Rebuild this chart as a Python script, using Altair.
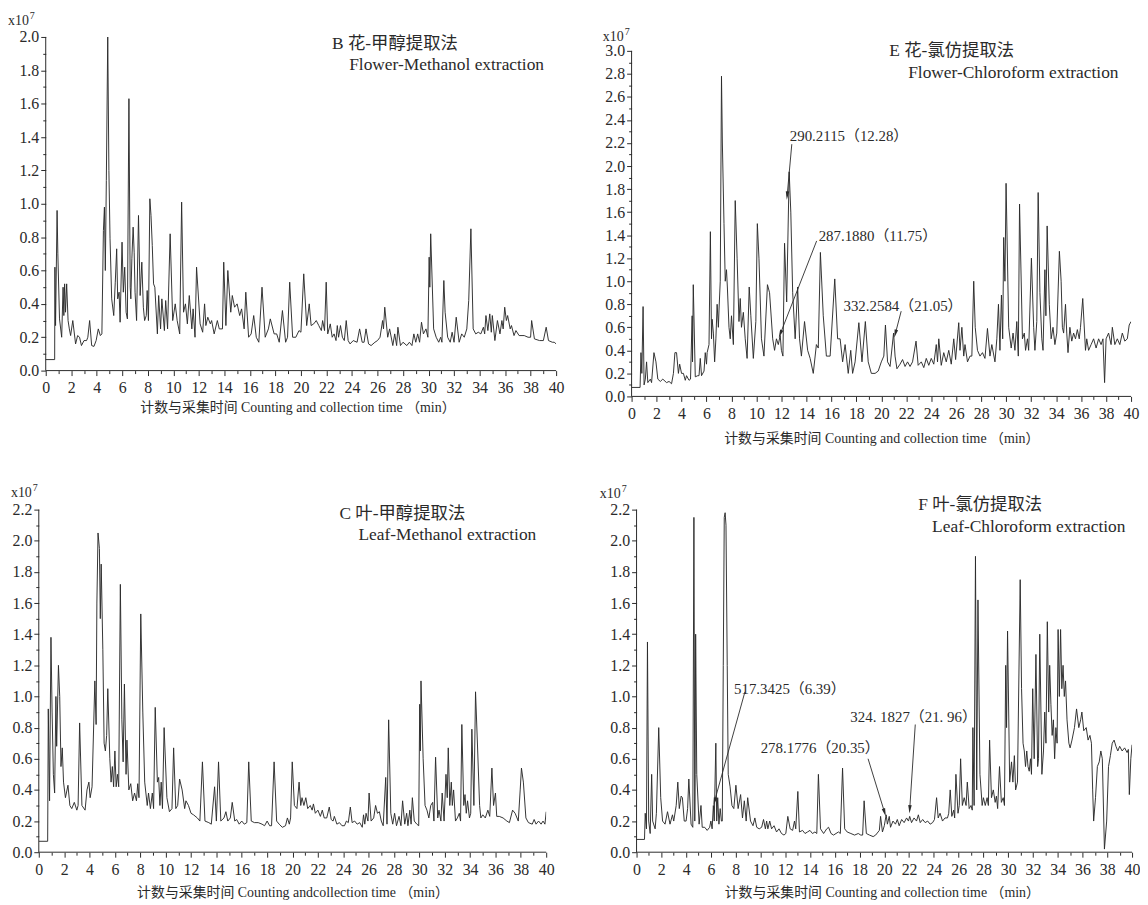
import math
import altair as alt
import pandas as pd

FONT = "Liberation Serif, Noto Sans CJK SC, serif"
INK = "#2a2a2a"

# ---------------- chromatogram traces: (time min, intensity x10^7) ----------------
B_trace = [(0,0.066),(0.7,0.066),(0.72,0.62),(0.77,0.27),(0.89,0.96),(0.95,0.7),(1.08,0.31),(1.25,0.2),(1.36,0.5),(1.42,0.33),(1.48,0.52),(1.55,0.35),(1.64,0.52),(1.75,0.3),(1.85,0.25),(1.95,0.21),(2.12,0.3),(2.34,0.16),(2.5,0.21),(2.65,0.2),(2.8,0.15),(3.0,0.18),(3.2,0.18),(3.3,0.2),(3.44,0.3),(3.6,0.15),(3.78,0.145),(3.95,0.18),(4.12,0.25),(4.28,0.21),(4.4,0.22),(4.52,0.84),(4.6,0.98),(4.67,0.6),(4.75,1.14),(4.86,2.0),(4.95,1.2),(5.04,0.79),(5.17,0.43),(5.33,0.33),(5.45,0.53),(5.56,0.73),(5.64,0.43),(5.75,0.47),(5.83,0.29),(5.98,0.77),(6.08,0.47),(6.19,0.62),(6.3,0.35),(6.4,0.31),(6.52,1.63),(6.62,0.5),(6.67,0.43),(6.75,0.67),(6.85,0.86),(6.93,0.71),(7.0,0.47),(7.12,0.3),(7.27,0.93),(7.4,0.45),(7.53,0.65),(7.65,0.38),(7.75,0.3),(7.88,0.33),(7.95,0.48),(8.05,0.3),(8.16,1.03),(8.25,0.93),(8.35,0.75),(8.45,0.52),(8.55,0.5),(8.75,0.22),(8.85,0.45),(9.0,0.25),(9.1,0.43),(9.3,0.24),(9.4,0.42),(9.55,0.25),(9.75,0.82),(9.95,0.3),(10.15,0.4),(10.3,0.3),(10.5,0.22),(10.65,1.01),(10.8,0.35),(10.95,0.4),(11.1,0.28),(11.25,0.45),(11.45,0.25),(11.55,0.37),(11.7,0.2),(11.82,0.62),(12.1,0.28),(12.3,0.23),(12.45,0.4),(12.55,0.27),(12.7,0.32),(12.9,0.28),(13.0,0.3),(13.2,0.22),(13.45,0.3),(13.6,0.25),(13.85,0.25),(13.95,0.65),(14.12,0.27),(14.27,0.6),(14.5,0.35),(14.62,0.45),(14.8,0.38),(15.0,0.4),(15.2,0.33),(15.35,0.37),(15.55,0.25),(15.68,0.47),(15.9,0.2),(16.1,0.22),(16.3,0.33),(16.5,0.2),(16.7,0.17),(16.95,0.5),(17.2,0.2),(17.45,0.25),(17.6,0.31),(17.9,0.22),(18.1,0.22),(18.3,0.17),(18.55,0.36),(18.8,0.17),(18.95,0.2),(19.12,0.53),(19.35,0.2),(19.6,0.2),(19.85,0.24),(20.0,0.23),(20.22,0.58),(20.45,0.27),(20.65,0.4),(20.8,0.27),(21.0,0.28),(21.2,0.3),(21.4,0.27),(21.6,0.24),(21.7,0.3),(21.85,0.24),(21.98,0.53),(22.1,0.22),(22.3,0.28),(22.45,0.2),(22.6,0.22),(22.75,0.18),(22.85,0.27),(22.95,0.2),(23.1,0.27),(23.25,0.2),(23.4,0.18),(23.55,0.3),(23.7,0.18),(23.85,0.16),(24.1,0.18),(24.4,0.17),(24.6,0.25),(24.8,0.17),(24.95,0.17),(25.1,0.25),(25.3,0.16),(25.5,0.15),(25.8,0.17),(26.0,0.18),(26.2,0.2),(26.4,0.3),(26.47,0.25),(26.57,0.38),(26.8,0.2),(26.95,0.25),(27.2,0.15),(27.35,0.22),(27.5,0.15),(27.6,0.26),(27.8,0.15),(28.0,0.17),(28.3,0.15),(28.5,0.17),(28.7,0.15),(28.85,0.22),(29.0,0.17),(29.15,0.22),(29.3,0.17),(29.45,0.29),(29.6,0.22),(29.8,0.25),(29.95,0.2),(30.05,0.68),(30.1,0.5),(30.17,0.82),(30.4,0.25),(30.6,0.2),(30.8,0.17),(30.95,0.2),(31.05,0.17),(31.2,0.54),(31.3,0.35),(31.5,0.2),(31.7,0.17),(31.85,0.23),(32.0,0.17),(32.17,0.32),(32.4,0.17),(32.6,0.22),(32.8,0.2),(33.0,0.25),(33.15,0.42),(33.32,0.85),(33.5,0.25),(33.7,0.22),(33.9,0.23),(34.1,0.22),(34.3,0.26),(34.4,0.22),(34.5,0.33),(34.65,0.24),(34.8,0.34),(34.92,0.23),(35.0,0.33),(35.2,0.18),(35.4,0.3),(35.6,0.22),(35.75,0.3),(35.85,0.25),(35.97,0.38),(36.1,0.3),(36.2,0.33),(36.4,0.25),(36.5,0.27),(36.7,0.21),(36.85,0.24),(37.1,0.21),(37.5,0.21),(37.8,0.2),(38.0,0.2),(38.08,0.3),(38.3,0.19),(38.7,0.18),(39.0,0.18),(39.22,0.26),(39.4,0.18),(39.7,0.17),(39.85,0.17),(40.0,0.16)]

E_trace = [(0,0.078),(0.68,0.078),(0.75,0.38),(0.82,0.2),(0.92,0.78),(1.0,0.1),(1.1,0.15),(1.2,0.3),(1.3,0.12),(1.5,0.15),(1.6,0.12),(1.79,0.38),(1.95,0.3),(2.1,0.15),(2.3,0.13),(2.5,0.15),(2.8,0.12),(3.0,0.13),(3.2,0.11),(3.35,0.2),(3.47,0.38),(3.6,0.38),(3.75,0.2),(3.85,0.28),(4.0,0.2),(4.15,0.2),(4.3,0.14),(4.4,0.18),(4.6,0.14),(4.72,0.15),(4.85,0.7),(4.88,0.3),(4.94,0.97),(5.1,0.17),(5.3,0.18),(5.4,0.18),(5.5,0.33),(5.6,0.18),(5.8,0.22),(5.9,0.38),(6.0,0.28),(6.05,0.38),(6.2,0.45),(6.31,1.43),(6.4,0.5),(6.45,0.67),(6.55,0.55),(6.65,0.3),(6.75,0.5),(6.85,0.8),(6.95,0.6),(7.0,0.75),(7.1,1.0),(7.2,2.78),(7.27,2.2),(7.4,1.5),(7.5,1.0),(7.6,1.1),(7.67,0.95),(7.8,0.6),(7.9,0.5),(8.0,0.7),(8.15,0.45),(8.3,1.7),(8.45,1.2),(8.6,0.65),(8.7,0.85),(8.8,0.6),(8.95,0.73),(9.1,0.5),(9.25,0.33),(9.42,0.95),(9.55,0.7),(9.75,0.33),(9.95,0.65),(10.07,1.5),(10.2,1.2),(10.4,0.5),(10.6,0.35),(10.88,0.97),(11.05,0.9),(11.3,0.5),(11.45,0.4),(11.6,0.5),(11.75,0.45),(11.9,0.53),(12.0,0.4),(12.12,0.35),(12.25,1.33),(12.42,0.82),(12.62,1.95),(12.75,1.6),(12.9,0.9),(13.1,0.5),(13.3,0.95),(13.45,0.5),(13.6,0.35),(13.85,0.65),(14.1,0.4),(14.3,0.33),(14.55,0.2),(14.8,0.45),(14.95,0.42),(15.12,1.25),(15.35,0.7),(15.6,0.35),(15.9,0.35),(16.27,1.02),(16.5,0.5),(16.7,0.5),(16.9,0.3),(17.1,0.45),(17.35,0.2),(17.55,0.4),(17.7,0.2),(17.9,0.3),(18.2,0.64),(18.45,0.3),(18.72,0.65),(18.95,0.3),(19.2,0.2),(19.5,0.2),(19.75,0.22),(20.0,0.3),(20.2,0.35),(20.33,0.62),(20.5,0.3),(20.7,0.26),(20.98,0.55),(21.1,0.35),(21.25,0.24),(21.5,0.28),(21.7,0.32),(21.9,0.26),(22.1,0.3),(22.3,0.26),(22.5,0.3),(22.78,0.48),(22.95,0.27),(23.2,0.3),(23.4,0.25),(23.6,0.33),(23.8,0.27),(24.0,0.33),(24.2,0.28),(24.4,0.45),(24.5,0.3),(24.6,0.5),(24.8,0.27),(25.0,0.38),(25.2,0.3),(25.4,0.4),(25.6,0.28),(25.8,0.5),(25.95,0.32),(26.2,0.64),(26.3,0.4),(26.45,0.6),(26.6,0.35),(26.7,0.45),(26.9,0.3),(27.1,0.35),(27.25,0.35),(27.4,1.0),(27.52,0.6),(27.7,0.4),(27.9,0.35),(28.1,0.38),(28.3,0.33),(28.5,0.59),(28.7,0.35),(28.85,0.45),(29.1,0.3),(29.25,0.5),(29.38,0.8),(29.5,0.4),(29.62,0.88),(29.72,0.5),(29.8,1.38),(29.9,1.0),(29.99,1.85),(30.2,0.6),(30.4,0.42),(30.55,0.55),(30.7,0.4),(30.85,0.65),(30.97,0.35),(31.07,1.67),(31.3,0.5),(31.45,0.55),(31.55,0.4),(31.7,0.5),(31.8,0.4),(32.02,1.2),(32.2,0.6),(32.3,0.4),(32.45,0.65),(32.56,1.77),(32.7,0.9),(32.85,0.5),(32.95,0.4),(33.1,1.1),(33.18,0.7),(33.28,1.48),(33.45,0.8),(33.6,0.5),(33.75,0.6),(33.9,0.45),(34.05,0.55),(34.26,1.26),(34.4,1.0),(34.5,0.6),(34.6,0.55),(34.75,0.8),(34.85,0.55),(34.95,0.38),(35.1,0.6),(35.25,0.48),(35.4,0.55),(35.55,0.5),(35.7,0.58),(35.85,0.5),(35.95,0.6),(36.13,0.85),(36.35,0.4),(36.45,0.5),(36.6,0.4),(36.8,0.45),(37.0,0.5),(37.2,0.42),(37.4,0.5),(37.6,0.45),(37.75,0.5),(37.88,0.12),(38.0,0.5),(38.2,0.55),(38.4,0.45),(38.5,0.6),(38.7,0.45),(38.9,0.5),(39.1,0.45),(39.3,0.55),(39.5,0.48),(39.7,0.5),(39.85,0.62),(40.0,0.65)]

C_trace = [(0,0.07),(0.7,0.07),(0.75,0.92),(0.85,0.33),(0.96,1.38),(1.05,0.9),(1.15,0.5),(1.25,0.38),(1.35,1.0),(1.41,0.68),(1.55,1.2),(1.65,1.0),(1.75,0.55),(1.85,0.67),(1.95,0.45),(2.1,0.35),(2.3,0.43),(2.45,0.3),(2.6,0.28),(2.8,0.32),(3.0,0.27),(3.1,0.3),(3.22,0.83),(3.4,0.3),(3.65,0.27),(3.8,0.4),(3.95,0.45),(4.05,0.35),(4.2,0.42),(4.42,1.1),(4.52,0.82),(4.58,1.6),(4.67,2.05),(4.78,1.95),(4.85,1.5),(4.92,1.85),(5.05,1.3),(5.15,0.7),(5.25,0.65),(5.35,0.75),(5.44,1.05),(5.6,0.6),(5.7,0.45),(5.8,0.55),(5.9,0.42),(6.0,0.65),(6.1,0.42),(6.2,0.5),(6.3,0.42),(6.43,1.72),(6.55,0.85),(6.65,0.58),(6.75,1.08),(6.88,0.5),(6.95,0.72),(7.1,0.4),(7.25,0.44),(7.4,0.33),(7.55,0.38),(7.7,0.33),(7.8,0.44),(7.9,0.35),(8.04,1.53),(8.2,0.9),(8.35,0.45),(8.55,0.3),(8.65,0.38),(8.8,0.28),(8.95,0.38),(9.05,0.28),(9.18,0.93),(9.35,0.45),(9.45,0.48),(9.55,0.3),(9.65,0.45),(9.75,0.28),(9.88,0.8),(10.1,0.35),(10.3,0.26),(10.5,0.28),(10.63,0.67),(10.8,0.28),(10.95,0.3),(11.1,0.47),(11.3,0.4),(11.5,0.28),(11.6,0.33),(11.8,0.3),(12.0,0.25),(12.2,0.24),(12.5,0.22),(12.7,0.2),(12.9,0.58),(13.1,0.2),(13.4,0.19),(13.6,0.18),(13.86,0.42),(14.0,0.2),(14.17,0.58),(14.35,0.2),(14.6,0.22),(14.75,0.26),(14.9,0.2),(15.1,0.22),(15.25,0.32),(15.45,0.2),(15.6,0.21),(15.8,0.18),(16.0,0.2),(16.2,0.18),(16.4,0.19),(16.55,0.58),(16.75,0.2),(17.0,0.19),(17.3,0.19),(17.6,0.18),(17.8,0.17),(18.0,0.2),(18.2,0.17),(18.35,0.17),(18.55,0.58),(18.75,0.2),(18.95,0.18),(19.2,0.16),(19.45,0.17),(19.6,0.22),(19.75,0.18),(19.85,0.22),(19.98,0.58),(20.15,0.3),(20.35,0.28),(20.52,0.45),(20.65,0.3),(20.75,0.35),(20.9,0.3),(21.05,0.35),(21.2,0.28),(21.4,0.3),(21.55,0.27),(21.65,0.31),(21.8,0.25),(22.0,0.27),(22.2,0.23),(22.35,0.27),(22.5,0.22),(22.7,0.22),(22.9,0.29),(23.05,0.21),(23.2,0.2),(23.3,0.23),(23.5,0.18),(23.7,0.19),(23.9,0.17),(24.1,0.17),(24.25,0.2),(24.4,0.19),(24.56,0.29),(24.7,0.19),(24.9,0.2),(25.1,0.18),(25.3,0.19),(25.5,0.16),(25.6,0.24),(25.7,0.18),(25.8,0.25),(25.95,0.2),(26.04,0.38),(26.2,0.2),(26.4,0.22),(26.55,0.3),(26.7,0.25),(26.85,0.26),(27.0,0.2),(27.15,0.17),(27.35,0.48),(27.45,0.18),(27.58,0.85),(27.75,0.25),(27.9,0.18),(28.05,0.25),(28.2,0.17),(28.4,0.23),(28.55,0.17),(28.68,0.33),(28.85,0.18),(29.0,0.25),(29.1,0.17),(29.25,0.27),(29.35,0.18),(29.45,0.35),(29.6,0.2),(29.8,0.18),(29.95,0.17),(30.03,0.95),(30.08,0.65),(30.13,1.1),(30.3,0.6),(30.45,0.3),(30.6,0.27),(30.75,0.22),(30.9,0.3),(31.05,0.32),(31.15,0.2),(31.28,0.61),(31.45,0.22),(31.55,0.27),(31.7,0.2),(31.8,0.38),(31.95,0.2),(32.1,0.5),(32.2,0.35),(32.28,0.67),(32.4,0.3),(32.52,0.45),(32.6,0.3),(32.7,0.4),(32.85,0.2),(33.0,0.22),(33.15,0.25),(33.25,0.2),(33.35,0.82),(33.5,0.3),(33.6,0.37),(33.7,0.25),(33.8,0.33),(33.95,0.22),(34.05,0.25),(34.14,0.79),(34.3,0.3),(34.43,1.03),(34.6,0.65),(34.75,0.3),(34.85,0.22),(35.0,0.24),(35.2,0.22),(35.4,0.27),(35.55,0.23),(35.72,0.54),(35.85,0.3),(36.0,0.38),(36.1,0.23),(36.3,0.23),(36.6,0.22),(36.9,0.2),(37.1,0.19),(37.35,0.27),(37.55,0.25),(37.8,0.2),(37.95,0.4),(38.05,0.54),(38.2,0.45),(38.4,0.22),(38.6,0.19),(38.9,0.18),(39.05,0.21),(39.2,0.18),(39.4,0.2),(39.6,0.18),(39.75,0.2),(39.9,0.18),(40.0,0.26)]

F_trace = [(0,0.082),(0.64,0.082),(0.7,0.25),(0.8,0.15),(0.88,1.35),(0.98,0.2),(1.1,0.12),(1.22,0.5),(1.3,0.2),(1.5,0.15),(1.6,0.25),(1.79,0.8),(1.95,0.35),(2.1,0.2),(2.3,0.18),(2.5,0.26),(2.7,0.18),(2.9,0.24),(3.0,0.2),(3.2,0.3),(3.33,0.45),(3.45,0.28),(3.6,0.36),(3.7,0.35),(3.85,0.2),(4.0,0.2),(4.12,0.28),(4.22,0.47),(4.4,0.18),(4.54,0.16),(4.63,2.15),(4.7,0.2),(4.73,0.5),(4.77,1.4),(4.86,0.5),(5.05,0.18),(5.2,0.3),(5.3,0.16),(5.5,0.16),(5.7,0.14),(5.9,0.16),(6.0,0.2),(6.1,0.15),(6.2,0.3),(6.27,0.2),(6.4,0.7),(6.47,0.2),(6.55,0.35),(6.65,0.18),(6.75,0.28),(6.85,0.2),(6.92,0.2),(7.0,1.2),(7.08,2.15),(7.15,2.18),(7.22,2.1),(7.32,1.2),(7.4,0.5),(7.55,0.42),(7.7,0.3),(7.85,0.28),(8.02,0.43),(8.2,0.28),(8.4,0.37),(8.55,0.22),(8.7,0.33),(8.85,0.2),(8.97,0.35),(9.2,0.2),(9.4,0.17),(9.55,0.22),(9.7,0.16),(9.9,0.15),(10.1,0.16),(10.25,0.21),(10.4,0.15),(10.5,0.2),(10.6,0.15),(10.75,0.2),(10.9,0.15),(11.1,0.17),(11.3,0.13),(11.5,0.15),(11.7,0.12),(11.9,0.11),(12.05,0.12),(12.21,0.23),(12.4,0.15),(12.6,0.14),(12.75,0.2),(12.85,0.15),(13.02,0.39),(13.15,0.13),(13.4,0.14),(13.6,0.12),(13.8,0.13),(14.0,0.14),(14.2,0.12),(14.4,0.13),(14.55,0.12),(14.68,0.5),(14.85,0.15),(15.1,0.12),(15.35,0.15),(15.5,0.16),(15.7,0.12),(15.9,0.11),(16.1,0.12),(16.3,0.13),(16.45,0.12),(16.63,0.54),(16.8,0.15),(17.0,0.13),(17.3,0.12),(17.6,0.11),(17.9,0.12),(18.1,0.11),(18.25,0.11),(18.37,0.33),(18.55,0.12),(18.8,0.11),(19.1,0.1),(19.3,0.11),(19.5,0.13),(19.6,0.14),(19.7,0.23),(19.85,0.13),(20.0,0.17),(20.15,0.24),(20.25,0.18),(20.4,0.23),(20.5,0.16),(20.7,0.2),(20.9,0.18),(21.05,0.21),(21.2,0.17),(21.4,0.21),(21.6,0.19),(21.8,0.22),(21.95,0.2),(22.05,0.23),(22.2,0.19),(22.4,0.22),(22.6,0.2),(22.75,0.24),(22.9,0.19),(23.1,0.21),(23.3,0.19),(23.5,0.2),(23.7,0.18),(23.9,0.19),(24.05,0.21),(24.22,0.35),(24.35,0.22),(24.5,0.25),(24.7,0.2),(24.9,0.22),(25.1,0.22),(25.2,0.25),(25.32,0.4),(25.45,0.23),(25.6,0.27),(25.68,0.22),(25.78,0.5),(25.95,0.25),(26.05,0.3),(26.16,0.6),(26.3,0.3),(26.45,0.35),(26.6,0.3),(26.7,0.45),(26.85,0.28),(27.0,0.3),(27.1,0.27),(27.15,0.8),(27.25,0.3),(27.36,1.9),(27.46,0.4),(27.56,1.62),(27.72,0.5),(27.9,0.3),(28.0,0.35),(28.15,0.3),(28.3,0.35),(28.4,0.3),(28.5,0.72),(28.65,0.35),(28.8,0.4),(28.95,0.32),(29.05,0.36),(29.15,0.28),(29.3,0.55),(29.45,0.32),(29.6,0.35),(29.7,0.3),(29.8,1.2),(29.87,0.8),(29.95,1.42),(30.12,0.45),(30.27,0.58),(30.38,0.45),(30.5,0.62),(30.6,0.4),(30.75,0.45),(30.97,1.75),(31.08,1.05),(31.2,0.7),(31.3,0.65),(31.4,0.55),(31.5,0.65),(31.6,0.55),(31.7,0.52),(31.8,0.6),(31.88,0.5),(31.98,1.05),(32.1,0.6),(32.24,1.27),(32.38,0.55),(32.45,0.6),(32.55,1.4),(32.72,0.5),(32.85,0.65),(32.95,0.9),(33.05,0.7),(33.16,1.48),(33.27,0.9),(33.35,1.2),(33.45,0.95),(33.55,0.75),(33.65,0.85),(33.75,0.6),(33.85,0.8),(33.95,0.7),(34.03,1.43),(34.13,1.0),(34.23,1.43),(34.33,1.05),(34.43,1.2),(34.53,1.0),(34.63,1.1),(34.75,0.85),(34.9,0.7),(35.0,0.67),(35.15,0.72),(35.35,0.8),(35.52,0.92),(35.7,0.8),(35.85,0.85),(35.95,0.9),(36.1,0.78),(36.3,0.8),(36.45,0.72),(36.6,0.75),(36.72,0.7),(36.82,0.4),(36.9,0.2),(37.05,0.35),(37.2,0.55),(37.35,0.58),(37.48,0.65),(37.6,0.6),(37.77,0.02),(37.95,0.2),(38.1,0.55),(38.25,0.62),(38.4,0.7),(38.55,0.72),(38.7,0.68),(38.85,0.65),(39.0,0.68),(39.2,0.65),(39.4,0.67),(39.6,0.64),(39.7,0.66),(39.78,0.37),(39.9,0.6),(40.0,0.69)]

# ---------------- panel titles: (text, time, intensity) ----------------
B_titles = [("B 花-甲醇提取法", 22.44, 1.958), ("Flower-Methanol extraction", 23.78, 1.83)]
E_titles = [("E 花-氯仿提取法", 20.64, 3.0), ("Flower-Chloroform extraction", 22.15, 2.81)]
C_titles = [("C 叶-甲醇提取法", 23.7, 2.17), ("Leaf-Methanol extraction", 25.2, 2.035)]
F_titles = [("F 叶-氯仿提取法", 22.74, 2.23), ("Leaf-Chloroform extraction", 23.86, 2.086)]

# ---------------- peak annotations: (label, label t, label v, arrow from t, v, arrow to t, v) ----------------
E_notes = [("290.2115（12.28）", 12.67, 2.26, 12.83, 2.19, 12.43, 1.71),
           ("287.1880（11.75）", 14.98, 1.39, 14.82, 1.35, 11.79, 0.51),
           ("332.2584（21.05）", 16.97, 0.785, 21.59, 0.74, 21.04, 0.51)]
F_notes = [("517.3425（6.39）", 7.87, 1.05, 8.75, 1.03, 6.2, 0.30),
           ("278.1776（20.35）", 10.02, 0.666, 18.69, 0.60, 20.12, 0.23),
           ("324. 1827（21. 96）", 17.26, 0.87, 22.5, 0.82, 22.03, 0.25)]

XTITLE = "计数与采集时间  Counting and collection time （min）"
XTITLE_C = "计数与采集时间  Counting andcollection time （min）"


def panel(trace, ylab_max, span_w, span_h, ext_left, ext_top, titles, notes,
          xtitle, title_pad, x10_dx, x10_dy, spacer_top):
    df = pd.DataFrame(trace, columns=["t", "v"])
    width = span_w + ext_left
    height = span_h + ext_top
    x0 = -ext_left * 40.0 / span_w
    ytop = ylab_max * height / span_h
    xvals = list(range(0, 41))
    yvals = [round(i * 0.1, 1) for i in range(int(round(ylab_max * 10)) + 1)]
    common = dict(domain=False, tickColor=INK, labelColor=INK, titleColor=INK,
                  labelFont=FONT, titleFont=FONT, labelFontSize=16, titleFontSize=14,
                  titleFontWeight="normal", grid=False, tickWidth=1,
                  labelFlush=False, labelOverlap=False)
    xaxis = alt.Axis(values=xvals, title=xtitle, labelPadding=4, titlePadding=title_pad,
                     labelExpr="datum.value % 2 == 0 ? datum.label : ''",
                     tickSize={"condition": {"test": "datum.value % 2 == 0", "value": 5}, "value": 3},
                     **common)
    yaxis = alt.Axis(values=yvals, title=None, labelPadding=2, offset=-ext_left,
                     labelExpr="round(datum.value*10) % 2 == 0 ? format(datum.value, '.1f') : ''",
                     tickSize={"condition": {"test": "round(datum.value*10) % 2 == 0", "value": 5}, "value": 3},
                     **common)
    xs = alt.Scale(domain=[x0, 40], nice=False, zero=False)
    ys = alt.Scale(domain=[0, ytop], nice=False, zero=False)
    X = lambda f: alt.X(f, type="quantitative", scale=xs, axis=xaxis)
    Y = lambda f: alt.Y(f, type="quantitative", scale=ys, axis=yaxis)

    line = alt.Chart(df).mark_line(color=INK, strokeWidth=0.95, clip=True).encode(
        x=X("t"), y=Y("v"))

    # axis lines, from 0 to the last labelled tick
    adf = pd.DataFrame({"a0": [0.0], "a1": [40.0], "b0": [0.0], "b1": [ylab_max]})
    xline = alt.Chart(adf).mark_rule(color=INK, strokeWidth=1).encode(
        x=X("a0"), x2="a1:Q", y=Y("b0"))
    yline = alt.Chart(adf).mark_rule(color=INK, strokeWidth=1).encode(
        x=X("a0"), y=Y("b0"), y2="b1:Q")

    tdf = pd.DataFrame(titles, columns=["label", "t", "v"])
    ttl = alt.Chart(tdf).mark_text(align="left", baseline="middle", font=FONT,
                                   fontSize=17.5, color=INK).encode(
        x=X("t"), y=Y("v"), text="label:N")

    deco = pd.DataFrame({"s": ["x10"], "p": ["7"], "z": ["x"], "top": [ylab_max]})
    x10 = alt.Chart(deco).mark_text(align="left", baseline="alphabetic", font=FONT,
                                    fontSize=14, color=INK, dy=x10_dy).encode(
        text="s:N", x=alt.value(ext_left + x10_dx), y=Y("top"))
    sup = alt.Chart(deco).mark_text(align="left", baseline="alphabetic", font=FONT,
                                    fontSize=10, color=INK, dy=x10_dy - 6).encode(
        text="p:N", x=alt.value(ext_left + x10_dx + 22), y=Y("top"))
    layers = [line, xline, yline, ttl, x10, sup]
    if spacer_top:
        spacer = alt.Chart(deco).mark_text(align="left", baseline="top", font=FONT,
                                           fontSize=10, opacity=0).encode(
            text="z:N", x=alt.value(ext_left + x10_dx), y=alt.value(-spacer_top))
        layers.append(spacer)

    if notes:
        sx = span_w / 40.0
        sy = span_h / ylab_max
        rows = []
        for (lab, lt, lv, x1, y1, x2, y2) in notes:
            dxp = (x2 - x1) * sx
            dyp = -(y2 - y1) * sy
            L = math.hypot(dxp, dyp)
            ang = math.degrees(math.atan2(dxp, -dyp)) % 360
            hx = x2 - dxp / L * 4.0 / sx
            hy = y2 + dyp / L * 4.0 / sy
            rows.append(dict(label=lab, lt=lt, lv=lv, x1=x1, y1=y1, hx=hx, hy=hy, ang=ang))
        ndf = pd.DataFrame(rows)
        ntext = alt.Chart(ndf).mark_text(align="left", baseline="middle", font=FONT,
                                         fontSize=15, color=INK).encode(
            x=X("lt"), y=Y("lv"), text="label:N")
        nrule = alt.Chart(ndf).mark_rule(color=INK, strokeWidth=0.9).encode(
            x=X("x1"), y=Y("y1"), x2="hx:Q", y2="hy:Q")
        nhead = alt.Chart(ndf).mark_point(shape="M0,-1L0.42,1L-0.42,1Z", filled=True,
                                          color=INK, opacity=1, size=70).encode(
            x=X("hx"), y=Y("hy"), angle=alt.Angle("ang:Q", scale=None))
        layers += [nrule, nhead, ntext]

    return alt.layer(*layers).properties(width=width, height=height)


B = panel(B_trace, 2.0, 514, 336, 7, 0, B_titles, None, XTITLE, 5, -38, -12, 25)
E = panel(E_trace, 3.0, 503, 348, 0, 14, E_titles, E_notes, XTITLE, 10, -29, -10, 0)
C = panel(C_trace, 2.2, 511, 345, 0, 0, C_titles, None, XTITLE_C, 9, -28, -13, 30)
F = panel(F_trace, 2.2, 499, 345, 5, 0, F_titles, F_notes, XTITLE, 9, -37, -12, 30)

chart = alt.concat(B, E, C, F, columns=2, spacing={"row": 35, "column": 36},
                   align="each").properties(
    padding={"left": 0, "top": 0, "right": 0, "bottom": 0},
    background="white",
).configure_view(stroke=None)

chart.save("out.html", embed_options={"renderer": "svg", "actions": False})
